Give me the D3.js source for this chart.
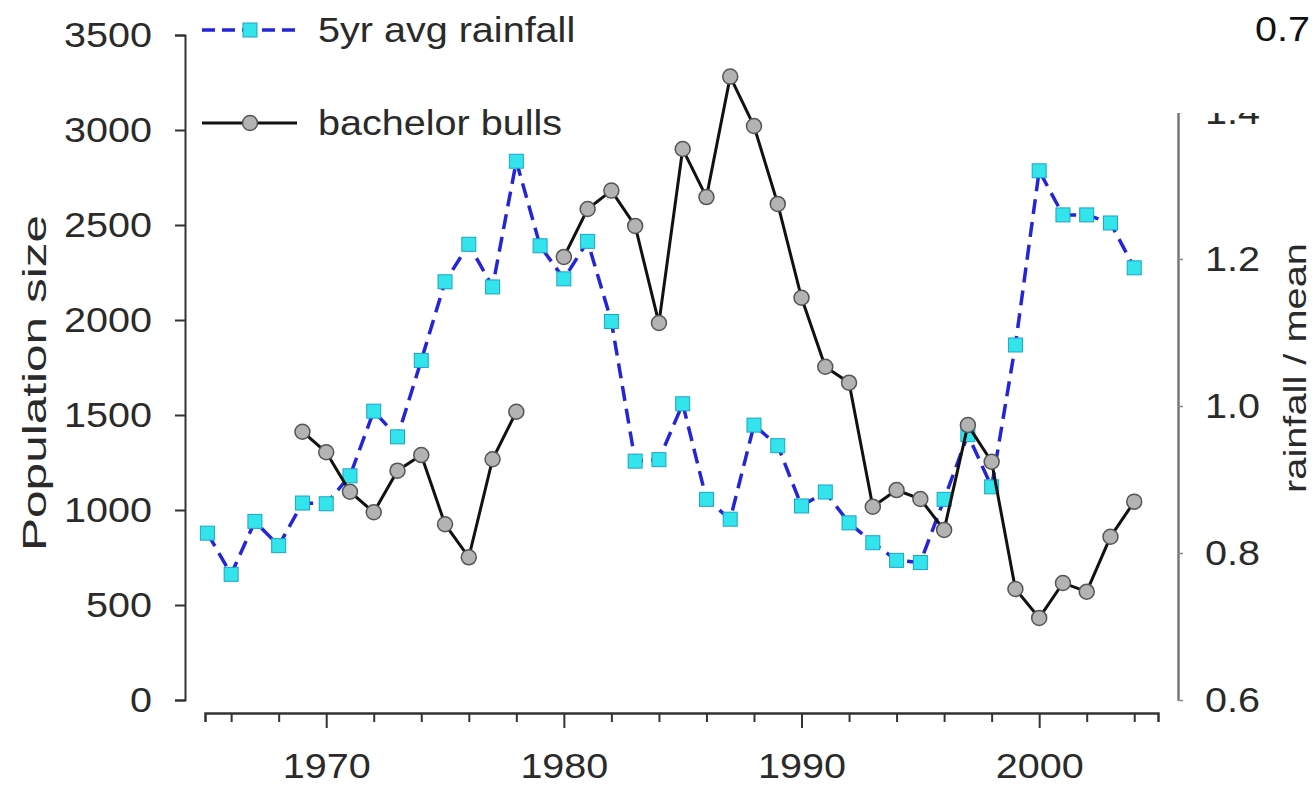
<!DOCTYPE html>
<html>
<head>
<meta charset="utf-8">
<script src="https://cdn.jsdelivr.net/npm/d3@7"></script>
<style>
  html, body { margin: 0; padding: 0; background: #fff; }
  svg text { font-family: "Liberation Sans", Arial, sans-serif; }
</style>
</head>
<body>
<svg id="chart" width="1316" height="790"></svg>
<script>
// ---- data ----
const years = [1965,1966,1967,1968,1969,1970,1971,1972,1973,1974,1975,1976,1977,1978,1979,
               1980,1981,1982,1983,1984,1985,1986,1987,1988,1989,1990,1991,1992,1993,1994,
               1995,1996,1997,1998,1999,2000,2001,2002,2003,2004];
const rainfall = [0.827,0.771,0.843,0.810,0.868,0.867,0.905,0.993,0.958,1.062,1.169,1.220,1.162,1.333,1.218,
                  1.173,1.224,1.115,0.925,0.927,1.003,0.873,0.846,0.974,0.946,0.864,0.883,0.841,0.814,0.790,
                  0.787,0.873,0.961,0.890,1.083,1.320,1.260,1.260,1.249,1.188];
const bulls = [null,null,null,null,1412,1304,1096,988,1207,1289,925,751,1267,1517,null,
               2332,2584,2681,2495,1984,2900,2647,3281,3021,2611,2117,1754,1670,1017,1105,
               1058,895,1447,1254,584,432,616,570,859,1044];
const leftTicks = [0,500,1000,1500,2000,2500,3000,3500];
const rightTicks = [0.6,0.8,1.0,1.2,1.4];
const xTicks = [1966,1968,1970,1972,1974,1976,1978,1980,1982,1984,1986,1988,1990,1992,1994,1996,1998,2000,2002,2004];
const xLabelTicks = [1970,1980,1990,2000];
const seriesNames = ["5yr avg rainfall","bachelor bulls"];
const leftTitle = "Population size";
const rightTitle = "rainfall / mean";
const cornerLabel = "0.7";

// ---- layout ----
const svg = d3.select("#chart");
const FS = 35;
const STRETCH = 1.13;
const TXT = "#2a2a2a";
const x = d3.scaleLinear().domain([1964.9, 2005.0]).range([205, 1158]);
const yL = d3.scaleLinear().domain([0, 3500]).range([700, 35]);
const yR = d3.scaleLinear().domain([0.6, 1.4]).range([700, 112]);

function stretchText(sel, factor) {
  sel.each(function() {
    const len = this.getComputedTextLength();
    if (len > 0) {
      d3.select(this).attr("textLength", len * factor).attr("lengthAdjust", "spacingAndGlyphs");
    }
  });
}

// x axis
const gx = svg.append("g").attr("transform", "translate(0,713)")
  .call(d3.axisBottom(x).tickValues(xTicks).tickSizeOuter(0).tickSize(9).tickPadding(31)
        .tickFormat(d => xLabelTicks.includes(d) ? String(d) : ""));
gx.select(".domain").attr("stroke", "#333").attr("stroke-width", 2.5);
gx.selectAll(".tick line").attr("stroke", "#333").attr("stroke-width", 2)
  .attr("y2", d => xLabelTicks.includes(d) ? 15 : 9);
gx.selectAll(".tick text").attr("font-size", FS).attr("fill", TXT)
  .attr("font-family", "Liberation Sans, Arial, sans-serif");
stretchText(gx.selectAll(".tick text"), STRETCH);

// left axis
const gl = svg.append("g").attr("transform", "translate(185,0)")
  .call(d3.axisLeft(yL).tickValues(leftTicks).tickSize(10).tickPadding(23).tickFormat(d3.format("d")));
gl.select(".domain").attr("stroke", "#333").attr("stroke-width", 2);
gl.selectAll(".tick line").attr("stroke", "#333").attr("stroke-width", 2);
gl.selectAll(".tick text").attr("font-size", FS).attr("fill", TXT)
  .attr("font-family", "Liberation Sans, Arial, sans-serif");
stretchText(gl.selectAll(".tick text"), STRETCH);

// right axis (clipped at top)
svg.append("defs").append("clipPath").attr("id", "rclip")
  .append("rect").attr("x", 1150).attr("y", 113).attr("width", 166).attr("height", 677);
const gr = svg.append("g").attr("clip-path", "url(#rclip)")
  .append("g").attr("transform", "translate(1178,0)")
  .call(d3.axisRight(yR).tickValues(rightTicks).tickSize(5).tickSizeOuter(0).tickPadding(22)
        .tickFormat(d3.format(".1f")));
gr.select(".domain").attr("stroke", "#777").attr("stroke-width", 2.5);
gr.selectAll(".tick line").attr("stroke", "#888").attr("stroke-width", 1.5);
gr.selectAll(".tick text").attr("font-size", FS).attr("fill", TXT)
  .attr("font-family", "Liberation Sans, Arial, sans-serif");
stretchText(gr.selectAll(".tick text"), STRETCH);

// axis titles
svg.append("text").attr("transform", "translate(46,383) rotate(-90)")
  .attr("text-anchor", "middle").attr("font-size", 34).attr("fill", TXT)
  .attr("textLength", 336).attr("lengthAdjust", "spacingAndGlyphs")
  .text(leftTitle);
svg.append("text").attr("transform", "translate(1306,368) rotate(-90)")
  .attr("text-anchor", "middle").attr("font-size", 32).attr("fill", TXT)
  .attr("textLength", 250).attr("lengthAdjust", "spacingAndGlyphs")
  .text(rightTitle);
const corner = svg.append("text").attr("x", 1310).attr("y", 41)
  .attr("text-anchor", "end").attr("font-size", FS).attr("fill", "#111")
  .text(cornerLabel);
stretchText(corner, STRETCH);

// series data
const rainData = years.map((yr, i) => ({yr, v: rainfall[i]}));
const bullData = years.map((yr, i) => ({yr, v: bulls[i]}));

const rainColor = "#2424d8";
const sqFill = "#33e4ec";
const sqStroke = "#1aa6c4";
const SQ = 14;

// rainfall line
svg.append("path").datum(rainData)
  .attr("fill", "none").attr("stroke", rainColor).attr("stroke-width", 3.5)
  .attr("stroke-dasharray", "15,8")
  .attr("d", d3.line().x(d => x(d.yr)).y(d => yR(d.v)));
svg.append("g").selectAll("rect").data(rainData).join("rect")
  .attr("x", d => x(d.yr) - SQ/2).attr("y", d => yR(d.v) - SQ/2)
  .attr("width", SQ).attr("height", SQ)
  .attr("fill", sqFill).attr("stroke", sqStroke).attr("stroke-width", 1);

// bulls line
svg.append("path").datum(bullData)
  .attr("fill", "none").attr("stroke", "#111").attr("stroke-width", 3)
  .attr("d", d3.line().defined(d => d.v !== null).x(d => x(d.yr)).y(d => yL(d.v)));
svg.append("g").selectAll("circle").data(bullData.filter(d => d.v !== null)).join("circle")
  .attr("cx", d => x(d.yr)).attr("cy", d => yL(d.v)).attr("r", 7.5)
  .attr("fill", "#b3b3b3").attr("stroke", "#555").attr("stroke-width", 1.5);

// legend
const lg = svg.append("g");
lg.append("line").attr("x1", 202).attr("x2", 297).attr("y1", 30).attr("y2", 30)
  .attr("stroke", rainColor).attr("stroke-width", 3.5).attr("stroke-dasharray", "13,7");
lg.append("rect").attr("x", 250 - SQ/2).attr("y", 30 - SQ/2).attr("width", SQ).attr("height", SQ)
  .attr("fill", sqFill).attr("stroke", sqStroke).attr("stroke-width", 1);
lg.append("line").attr("x1", 202).attr("x2", 297).attr("y1", 123).attr("y2", 123)
  .attr("stroke", "#111").attr("stroke-width", 3);
lg.append("circle").attr("cx", 250).attr("cy", 123).attr("r", 7.5)
  .attr("fill", "#b3b3b3").attr("stroke", "#555").attr("stroke-width", 1.5);
const lt = lg.selectAll("text.leg").data(seriesNames).join("text").attr("class", "leg")
  .attr("x", 318).attr("y", (d, i) => [30, 123][i]).attr("dy", "0.35em")
  .attr("font-size", FS).attr("fill", TXT).text(d => d);
stretchText(lt, STRETCH);
</script>
</body>
</html>
